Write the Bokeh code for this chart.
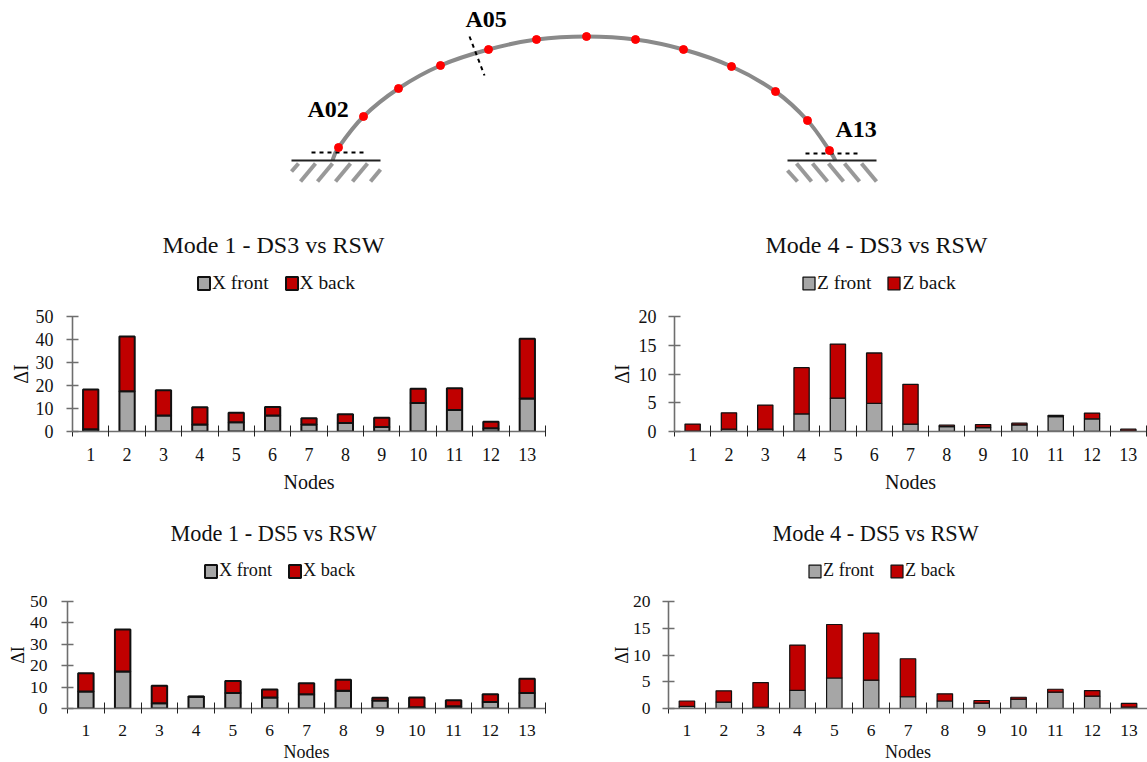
from bokeh.embed import file_html
from bokeh.resources import INLINE
from bokeh.plotting import figure
from bokeh.layouts import column, row
from bokeh.models import ColumnDataSource, FixedTicker, Legend, Title, Range1d, Label

FONT = "Liberation Serif"
NODES = list(range(1, 14))
BOUNDS = [n + 0.5 for n in range(0, 14)]

m1_ds3_front = [1.0, 17.5, 7.0, 3.0, 4.0, 7.0, 3.0, 3.7, 2.0, 12.4, 9.4, 1.4, 14.4]
m1_ds3_total = [18.3, 41.3, 17.9, 10.5, 8.2, 10.7, 5.8, 7.5, 6.0, 18.6, 18.8, 4.2, 40.3]
m4_ds3_front = [0.05, 0.4, 0.4, 3.05, 5.8, 4.9, 1.3, 0.85, 0.7, 1.15, 2.6, 2.2, 0.1]
m4_ds3_total = [1.3, 3.25, 4.6, 11.1, 15.2, 13.65, 8.2, 1.1, 1.2, 1.45, 2.8, 3.2, 0.4]
m1_ds5_front = [8.0, 17.3, 2.5, 5.5, 7.3, 5.1, 6.7, 8.3, 3.7, 0.6, 1.1, 3.0, 7.3]
m1_ds5_total = [16.5, 36.9, 10.6, 5.6, 12.8, 8.9, 11.8, 13.4, 5.0, 5.1, 3.9, 6.7, 13.9]
m4_ds5_front = [0.4, 1.2, 0.2, 3.4, 5.7, 5.3, 2.2, 1.4, 1.0, 1.75, 3.05, 2.3, 0.25]
m4_ds5_total = [1.4, 3.3, 4.85, 11.85, 15.7, 14.1, 9.3, 2.75, 1.5, 2.1, 3.6, 3.35, 0.95]

arch_x = [332, 338, 363, 398, 440, 488, 536, 586, 635, 683, 731, 775, 807, 829, 835]
arch_y = [160, 147, 116, 88, 65, 49, 39, 36, 39, 49, 66, 91, 120, 150, 160]
node_x = arch_x[1:-1]
node_y = arch_y[1:-1]

FRONT_C, BACK_C, EDGE = "#a6a6a6", "#c00000", "#111111"
NAN = float("nan")


def chart(title, axis, front, total, ymax, yticks, width, h_plot, left, right, bottom, head_top,
          title_x, title_size, tick_size, label_size, legend_size, legend_x, legend_y, line_w,
          tick_standoff, ylabel_standoff, xlabel_standoff):
    head = figure(width=width, height=79, output_backend="svg", toolbar_location=None,
                  x_range=Range1d(0, 1), y_range=Range1d(0, 1), min_border_left=0, min_border_right=0,
                  min_border_top=head_top, min_border_bottom=0, outline_line_color=None,
                  background_fill_alpha=0, border_fill_alpha=0, frame_align=False)
    head.axis.visible = False
    head.grid.visible = False
    head.title = Title(text=title, align="left", offset=title_x, standoff=2, text_font=FONT,
                       text_font_size=title_size, text_font_style="normal", text_color=EDGE)
    # legend keys only: these renderers hold no drawable point
    k1 = head.vbar(x=[NAN], bottom=[NAN], top=[NAN], width=0.4, fill_color=FRONT_C, line_color=EDGE, line_width=line_w)
    k2 = head.vbar(x=[NAN], bottom=[NAN], top=[NAN], width=0.4, fill_color=BACK_C, line_color=EDGE, line_width=line_w)
    leg = Legend(items=[(f"{axis} front", [k1]), (f"{axis} back", [k2])], orientation="horizontal",
                 location=(legend_x, legend_y), border_line_alpha=0, background_fill_alpha=0, padding=0, margin=0,
                 spacing=15, glyph_width=15, glyph_height=16, label_standoff=1, label_height=18,
                 label_text_font=FONT, label_text_font_size=legend_size, label_text_color=EDGE)
    head.add_layout(leg, "center")

    p = figure(width=width, height=h_plot, output_backend="svg", toolbar_location=None,
               x_range=Range1d(0.5, 13.5), y_range=Range1d(0, ymax),
               min_border_left=left, min_border_right=right, min_border_top=12, min_border_bottom=bottom,
               outline_line_color=None, background_fill_alpha=0, border_fill_alpha=0, frame_align=False)
    p.grid.visible = False
    src = ColumnDataSource(dict(x=NODES, front=front, total=total))
    p.vbar(x="x", bottom=0, top="front", width=0.42, source=src, fill_color=FRONT_C, line_color=EDGE, line_width=line_w)
    p.vbar(x="x", bottom="front", top="total", width=0.42, source=src, fill_color=BACK_C, line_color=EDGE, line_width=line_w)
    for ax in (p.xaxis[0], p.yaxis[0]):
        ax.major_label_text_font = FONT
        ax.major_label_text_font_size = tick_size
        ax.major_label_text_color = EDGE
        ax.axis_label_text_font = FONT
        ax.axis_label_text_font_size = label_size
        ax.axis_label_text_font_style = "normal"
        ax.axis_label_text_color = EDGE
        ax.axis_line_color = "#6e6e6e"
        ax.axis_line_width = 1.6
    xa = p.xaxis[0]
    xa.ticker = FixedTicker(ticks=NODES, minor_ticks=BOUNDS)
    xa.major_tick_in = 0
    xa.major_tick_out = 0
    xa.minor_tick_in = 6
    xa.minor_tick_out = 5
    xa.minor_tick_line_color = "#222222"
    xa.minor_tick_line_width = 1
    xa.major_label_standoff = 11
    xa.axis_label = "Nodes"
    xa.axis_label_standoff = xlabel_standoff
    ya = p.yaxis[0]
    ya.ticker = FixedTicker(ticks=yticks, minor_ticks=[])
    ya.major_tick_in = 6
    ya.major_tick_out = 6
    ya.major_tick_line_color = "#6e6e6e"
    ya.major_tick_line_width = 1.4
    ya.major_label_standoff = tick_standoff
    ya.major_label_orientation = "horizontal"
    ya.axis_label = "ΔI"
    ya.axis_label_standoff = ylabel_standoff
    return column(head, p, spacing=0)


# Arch sketch: page pixels are the data units of this figure
arch = figure(width=1147, height=225, output_backend="svg", toolbar_location=None,
              x_range=Range1d(0, 1147), y_range=Range1d(225, 0),
              min_border=0, outline_line_color=None, background_fill_alpha=0, border_fill_alpha=0, frame_align=False)
arch.axis.visible = False
arch.grid.visible = False
hatch_l_x0 = [291, 300, 317, 335, 352, 370]
hatch_l_y0 = [171, 181, 181, 181, 181, 181]
hatch_l_x1 = [298, 315, 332, 350, 367, 380]
hatch_l_y1 = [163, 163, 163, 163, 163, 169]
hatch_r_x0 = [787, 796, 812, 828, 844, 861]
hatch_r_y0 = [170, 163, 163, 163, 163, 163]
hatch_r_x1 = [797, 811, 827, 843, 859, 876]
hatch_r_y1 = [181, 181, 181, 181, 181, 181]
arch.segment(x0=hatch_l_x0, y0=hatch_l_y0, x1=hatch_l_x1, y1=hatch_l_y1, line_color="#999999", line_width=4)
arch.segment(x0=hatch_r_x0, y0=hatch_r_y0, x1=hatch_r_x1, y1=hatch_r_y1, line_color="#999999", line_width=4)
# smooth arch through the nodes (Catmull-Rom as cubic Bezier pieces)
n = len(arch_x)
cx0, cy0, cx1, cy1 = [], [], [], []
for i in range(n - 1):
    a, d = max(i - 1, 0), min(i + 2, n - 1)
    cx0.append(arch_x[i] + (arch_x[i + 1] - arch_x[a]) / 6)
    cy0.append(arch_y[i] + (arch_y[i + 1] - arch_y[a]) / 6)
    cx1.append(arch_x[i + 1] - (arch_x[d] - arch_x[i]) / 6)
    cy1.append(arch_y[i + 1] - (arch_y[d] - arch_y[i]) / 6)
arch.bezier(x0=arch_x[:-1], y0=arch_y[:-1], x1=arch_x[1:], y1=arch_y[1:], cx0=cx0, cy0=cy0, cx1=cx1, cy1=cy1,
            line_color="#8a8a8a", line_width=4)
arch.segment(x0=[291, 787], y0=[160, 160], x1=[380, 876], y1=[160, 160], line_color="#222222", line_width=2)
arch.segment(x0=[311, 805, 469], y0=[152, 153, 36], x1=[363, 857, 484], y1=[152, 153, 75],
             line_color="#000000", line_width=2, line_dash="4 4")
arch.scatter(node_x, node_y, size=8, fill_color="#ff0000", line_color="#ff0000")
for txt, lx, ly in [("A02", 307, 108), ("A05", 465, 18), ("A13", 835, 128)]:
    arch.add_layout(Label(x=lx, y=ly, text=txt, text_font=FONT, text_font_size="24px", text_font_style="bold",
                          text_color="#000000", text_baseline="alphabetic"))

c1 = chart("Mode 1 - DS3 vs RSW", "X", m1_ds3_front, m1_ds3_total, 50, [0, 10, 20, 30, 40, 50],
           590, 206, 72, 45, 79, 33, 162, "24px", "18px", "20px", "19.4px", 196, 10, 2.0, 13, 1, 7)
c2 = chart("Mode 4 - DS3 vs RSW", "Z", m4_ds3_front, m4_ds3_total, 20, [0, 5, 10, 15, 20],
           557, 206, 84, 1, 79, 33, 175, "24px", "18px", "20px", "19.4px", 211, 10, 1.3, 12, 3, 7)
c3 = chart("Mode 1 - DS5 vs RSW", "X", m1_ds5_front, m1_ds5_total, 50, [0, 10, 20, 30, 40, 50],
           590, 181, 67, 45, 62, 36, 170, "22.3px", "17.5px", "18px", "18.2px", 203, 8, 2.0, 14, -1, 3)
c4 = chart("Mode 4 - DS5 vs RSW", "Z", m4_ds5_front, m4_ds5_total, 20, [0, 5, 10, 15, 20],
           557, 181, 78, 0, 62, 36, 182, "22.3px", "17.5px", "18px", "18.2px", 217, 8, 1.2, 12, -2, 3)

page = column(arch, row(c1, c2, spacing=0), row(c3, c4, spacing=0), spacing=0,
              height=762, styles={"overflow": "hidden"})
open("out.html", "w").write(file_html(page, INLINE))
